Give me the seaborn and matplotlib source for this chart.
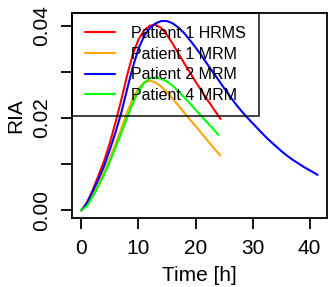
import numpy as np
import pandas as pd
import seaborn as sns
import matplotlib
matplotlib.use("Agg")
import matplotlib.pyplot as plt

# values
time_p1 = [0, 1, 2, 3, 4, 5, 6, 7, 8, 9, 10, 11, 12, 13, 14, 15, 16, 17, 18, 19, 20, 21, 22, 23, 24, 24.4]
ria_p1_hrms = [0, 0.0018, 0.0045, 0.0076, 0.0108, 0.0147, 0.0192, 0.0240, 0.0292, 0.0338, 0.0370, 0.0390,
               0.0400, 0.0402, 0.0395, 0.0380, 0.0361, 0.0340, 0.0319, 0.0299, 0.0279, 0.0260, 0.0241,
               0.0223, 0.0205, 0.0198]
ria_p1_mrm = [0, 0.0012, 0.0034, 0.0058, 0.0084, 0.0113, 0.0145, 0.0178, 0.0212, 0.0242, 0.0264, 0.0277,
              0.0281, 0.0277, 0.0268, 0.0256, 0.0242, 0.0227, 0.0212, 0.0197, 0.0183, 0.0168, 0.0153,
              0.0138, 0.0124, 0.0119]

time_p2 = [0, 1, 2, 3, 4, 5, 6, 7, 8, 9, 10, 11, 12, 13, 14, 15, 16, 17, 18, 19, 20, 21, 22, 23, 24, 25,
           26, 27, 28, 29, 30, 31, 32, 33, 34, 35, 36, 37, 38, 39, 40, 41, 41.4]
ria_p2_mrm = [0, 0.0016, 0.0042, 0.0068, 0.0097, 0.0132, 0.0170, 0.0212, 0.0262, 0.0310, 0.0350, 0.0378,
              0.0395, 0.0405, 0.0410, 0.0410, 0.0405, 0.0396, 0.0384, 0.0369, 0.0353, 0.0336, 0.0318,
              0.0300, 0.0283, 0.0265, 0.0248, 0.0231, 0.0216, 0.0202, 0.0189, 0.0176, 0.0163, 0.0151,
              0.0140, 0.0129, 0.0119, 0.0110, 0.0102, 0.0094, 0.0087, 0.0080, 0.0077]

time_p4 = [0, 1, 2, 3, 4, 5, 6, 7, 8, 9, 10, 11, 12, 13, 14, 15, 16, 17, 18, 19, 20, 21, 22, 23, 24]
ria_p4_mrm = [0, 0.0010, 0.0030, 0.0053, 0.0078, 0.0106, 0.0137, 0.0168, 0.0200, 0.0232, 0.0258, 0.0276,
              0.0286, 0.0288, 0.0285, 0.0279, 0.0270, 0.0258, 0.0245, 0.0232, 0.0218, 0.0205, 0.0191,
              0.0178, 0.0164]

labels = ["Patient 1 HRMS", "Patient 1 MRM", "Patient 2 MRM", "Patient 4 MRM"]
colors = ["#FF0000", "#FFA500", "#0000FF", "#00FF00"]

frames = []
for lab, t, v in zip(labels,
                     [time_p1, time_p1, time_p2, time_p4],
                     [ria_p1_hrms, ria_p1_mrm, ria_p2_mrm, ria_p4_mrm]):
    frames.append(pd.DataFrame({"time": t, "ria": v, "series": lab}))
df = pd.concat(frames, ignore_index=True)

sns.set_style("ticks")
plt.rcParams["font.family"] = ["Liberation Sans", "DejaVu Sans"]
plt.rcParams["text.color"] = "black"
plt.rcParams["axes.labelcolor"] = "black"
plt.rcParams["xtick.color"] = "black"
plt.rcParams["ytick.color"] = "black"

fig = plt.figure(figsize=(3.28, 2.87), dpi=100)
ax = fig.add_axes([72 / 328, 1 - 218 / 287, 255 / 328, 205 / 287])

sns.lineplot(data=df, x="time", y="ria", hue="series", hue_order=labels,
             palette=colors, linewidth=1.5, sort=False, ax=ax, zorder=2)

ax.set_xlim(-1.656, 43.056)
ax.set_ylim(-0.00164, 0.04274)
ax.set_xticks([0, 10, 20, 30, 40])
ax.set_yticks([0, 0.01, 0.02, 0.03, 0.04])
ax.set_yticklabels(["0.00", "", "0.02", "", "0.04"], rotation=90, va="center")
ax.tick_params(axis="both", direction="out", length=8, width=1.3, labelsize=15, pad=7,
               color="black", labelcolor="black")
for sp in ax.spines.values():
    sp.set_visible(True)
    sp.set_linewidth(1.3)
    sp.set_color("black")

ax.set_xlabel("Time [h]", fontsize=15, labelpad=6)
ax.set_ylabel("RIA", fontsize=15, labelpad=5)

leg = ax.legend(loc="upper left", bbox_to_anchor=(0, 1), borderaxespad=0, fontsize=11.5,
                frameon=True, fancybox=False, handlelength=1.9, handletextpad=1.0,
                labelspacing=0.36, borderpad=0.8)
leg.get_frame().set_facecolor("none")
leg.get_frame().set_edgecolor("black")
leg.get_frame().set_linewidth(1.3)
leg.set_zorder(5)

fig.savefig("out.png", dpi=100)
